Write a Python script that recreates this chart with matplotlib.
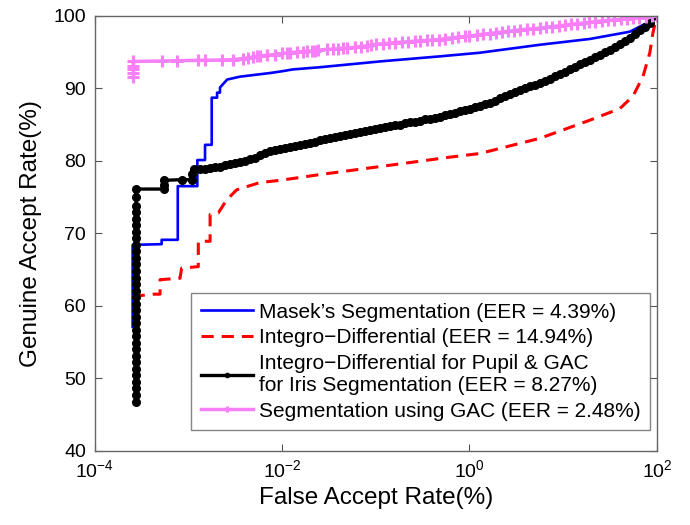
import matplotlib
matplotlib.use("Agg")
import matplotlib.pyplot as plt
from matplotlib.ticker import NullLocator

plt.rcParams['font.family'] = ['Liberation Sans', 'DejaVu Sans']

# Masek's segmentation
masek_far = [2.55e-4, 2.55e-4, 5.2e-4, 5.2e-4, 7.73e-4, 7.73e-4, 1.25e-3, 1.25e-3,
             1.51e-3, 1.51e-3, 1.78e-3, 1.78e-3, 2.03e-3, 2.03e-3, 2.18e-3, 2.18e-3,
             2.6e-3, 3.56e-3, 7.45e-3, 9.52e-3, 0.0131, 0.0254, 0.111, 0.484,
             1.29, 5.65, 19.3, 51.5, 84.1, 100]
masek_gar = [57.1, 68.4, 68.5, 69.1, 69.1, 76.5, 76.5, 80.1,
             80.1, 82.2, 82.2, 88.7, 88.7, 89.4, 89.4, 90.1,
             91.2, 91.6, 92.1, 92.3, 92.6, 92.9, 93.7, 94.4,
             94.9, 96.0, 96.8, 97.8, 99.2, 100]

# Integro-differential
integro_far = [2.55e-4, 4.24e-4, 5.0e-4, 5.0e-4, 8.17e-4, 8.5e-4, 1.28e-3, 1.28e-3,
               1.71e-3, 1.71e-3, 2.09e-3, 2.57e-3, 3.29e-3, 5.82e-3, 9.52e-3,
               0.0254, 0.111, 0.62, 1.29, 5.65, 19.3, 40.3, 55.5, 71.0, 84.1,
               90.6, 100]
integro_gar = [61.3, 61.6, 61.6, 63.6, 63.8, 65.2, 65.4, 68.9,
               68.9, 72.6, 72.8, 74.6, 76.0, 77.0, 77.3,
               78.1, 79.2, 80.5, 81.0, 83.1, 85.6, 87.2, 88.9, 91.6, 94.9,
               97.6, 100]

# Integro-differential for pupil & GAC for iris
gac_id_far = [2.77e-4] * 33 + [
    5.5e-4, 5.5e-4, 5.5e-4, 8.57e-4, 1.1e-3, 1.1e-3, 1.15e-3,
    1.334e-3, 1.51e-3, 1.706e-3, 1.93e-3, 2.18e-3, 2.46e-3, 2.79e-3, 3.14e-3,
    3.56e-3, 4.02e-3, 4.56e-3, 5.14e-3, 5.82e-3, 6.58e-3, 7.45e-3, 8.41e-3,
    9.52e-3, 0.01076, 0.01217, 0.01376, 0.01556, 0.0176, 0.01989, 0.0225,
    0.0254, 0.0288, 0.0325, 0.0368, 0.0416, 0.047, 0.0531, 0.0601,
    0.0679, 0.0768, 0.0868, 0.0982, 0.111, 0.1256, 0.142, 0.1606,
    0.1815, 0.2053, 0.232, 0.2625, 0.296, 0.3356, 0.379, 0.429,
    0.484, 0.549, 0.619, 0.702, 0.792, 0.897, 1.012, 1.147,
    1.294, 1.467, 1.654, 1.875, 2.115, 2.398, 2.704, 3.066,
    3.457, 3.92, 4.42, 5.01, 5.65, 6.41, 7.22, 8.19,
    9.23, 10.47, 11.8, 13.39, 15.1, 17.12, 19.3, 21.9,
    24.7, 28.0, 31.5, 35.8, 40.3, 45.7, 51.5, 58.5,
    65.9, 74.8, 84.1, 100]
gac_id_gar = [46.8, 47.7, 48.6, 49.5, 50.4, 51.3, 52.2, 53.1, 54.0, 54.9, 55.8,
              56.7, 57.6, 58.5, 59.4, 60.3, 61.2, 62.1, 63.0, 63.9, 64.8, 65.7,
              66.6, 67.5, 68.4, 69.3, 70.2, 71.1, 72.0, 72.9, 73.8, 75.0,
              76.1] + [
    76.1, 76.6, 77.3, 77.4, 77.4, 78.2, 78.8,
    78.8, 78.9, 79.0, 79.1, 79.2, 79.35, 79.5, 79.65,
    79.85, 80.0, 80.2, 80.45, 80.8, 81.05, 81.3, 81.45,
    81.6, 81.75, 81.9, 82.05, 82.2, 82.35, 82.5, 82.65,
    82.8, 82.95, 83.1, 83.25, 83.4, 83.55, 83.7, 83.85,
    84.0, 84.1, 84.25, 84.4, 84.5, 84.6, 84.75, 84.9,
    85.0, 85.15, 85.3, 85.4, 85.55, 85.7, 85.8, 85.95,
    86.1, 86.25, 86.4, 86.6, 86.8, 87.0, 87.2, 87.4,
    87.6, 87.8, 88.0, 88.3, 88.6, 88.9, 89.2, 89.5,
    89.8, 90.05, 90.3, 90.5, 90.7, 91.0, 91.3, 91.65,
    92.0, 92.3, 92.6, 92.95, 93.3, 93.6, 93.9, 94.25,
    94.6, 94.95, 95.3, 95.7, 96.1, 96.55, 97.0, 97.5,
    98.0, 98.5, 99.0, 100]

# Segmentation using GAC
gac_far = [2.6e-4, 2.6e-4, 2.6e-4, 2.6e-4, 2.6e-4,
           5.25e-4, 7.59e-4, 1.27e-3, 1.51e-3, 2.29e-3, 3.0e-3, 3.84e-3, 4.33e-3,
           4.91e-3, 5.41e-3, 5.82e-3, 6.92e-3, 8.41e-3, 0.0100, 0.0113, 0.0122,
           0.0145, 0.0168, 0.0185, 0.0209, 0.0225, 0.0242,
           0.03, 0.035, 0.04, 0.045, 0.05, 0.06, 0.07, 0.08, 0.09, 0.1, 0.12,
           0.14, 0.16, 0.19, 0.22, 0.26, 0.3, 0.35, 0.4, 0.47, 0.55, 0.65, 0.75,
           0.9, 1.0, 1.2, 1.4, 1.65, 1.9, 2.2, 2.6, 3.0, 3.5, 4.1, 4.8, 5.6, 6.5,
           7.6, 9, 10.5, 12, 14, 16.5, 19, 22, 26, 30, 35, 41, 48, 56, 65, 76,
           88, 100]
gac_gar = [91.6, 92.1, 92.6, 93.1, 93.7,
           93.75, 93.8, 93.85, 93.85, 93.9, 93.95, 94.1, 94.2,
           94.3, 94.4, 94.45, 94.55, 94.65, 94.8, 94.85, 94.9,
           95.0, 95.05, 95.1, 95.15, 95.2, 95.25,
           95.35, 95.4, 95.45, 95.5, 95.55, 95.65, 95.75, 95.85, 95.95, 96.05, 96.15,
           96.2, 96.3, 96.35, 96.4, 96.5, 96.55, 96.6, 96.65, 96.7, 96.85, 96.95, 97.05,
           97.15, 97.2, 97.35, 97.45, 97.55, 97.65, 97.75, 97.85, 97.95, 98.05, 98.15,
           98.2, 98.3, 98.4, 98.5, 98.6, 98.7, 98.8, 98.9, 99.0, 99.1, 99.2, 99.3,
           99.35, 99.45, 99.5, 99.6, 99.65, 99.7, 99.8, 99.9, 100]

labels = ["Masek\u2019s Segmentation (EER = 4.39%)",
          "Integro\u2212Differential (EER = 14.94%)",
          "Integro\u2212Differential for Pupil & GAC\nfor Iris Segmentation (EER = 8.27%)",
          "Segmentation using GAC (EER = 2.48%)"]

fig = plt.figure(figsize=(6.9, 5.25), dpi=100)
ax = fig.add_axes([0.137, 0.1413, 0.815, 0.8287])

ax.plot(masek_far, masek_gar, color='#0000FF', lw=1.9, label=labels[0])
ax.plot(integro_far, integro_gar, color='#FF0000', lw=2.2,
        linestyle=(0, (4, 2.6)), label=labels[1])
ax.plot(gac_id_far, gac_id_gar, color='black', lw=2.4, marker='o', ms=5.5,
        label=labels[2])
ax.plot(gac_far, gac_gar, color='#F77FF7', lw=2.5, marker='+', ms=8, mew=2.2,
        label=labels[3])

ax.set_xscale('log')
ax.set_xlim(1e-4, 1e2)
ax.set_ylim(40, 100)
ax.set_xticks([1e-4, 1e-2, 1e0, 1e2])
ax.xaxis.set_minor_locator(NullLocator())
ax.set_yticks([40, 50, 60, 70, 80, 90, 100])

ax.tick_params(direction='in', top=True, right=True, length=5, width=0.8,
               color='#555555', labelsize=14, pad=6)
for sp in ax.spines.values():
    sp.set_color('#666666')
    sp.set_linewidth(1.0)

ax.set_xlabel("False Accept Rate(%)", fontsize=17.5, labelpad=4)
ax.set_ylabel("Genuine Accept Rate(%)", fontsize=17.5, labelpad=8)

leg = ax.legend(loc='lower right', bbox_to_anchor=(0.988, 0.048), fontsize=15,
                borderaxespad=0, handlelength=2.5, handletextpad=0.3,
                labelspacing=0.32, borderpad=0.45, fancybox=False,
                markerscale=0.55)
leg.get_frame().set_edgecolor('#666666')
leg.get_frame().set_linewidth(1.0)

fig.savefig("out.png", dpi=100)
